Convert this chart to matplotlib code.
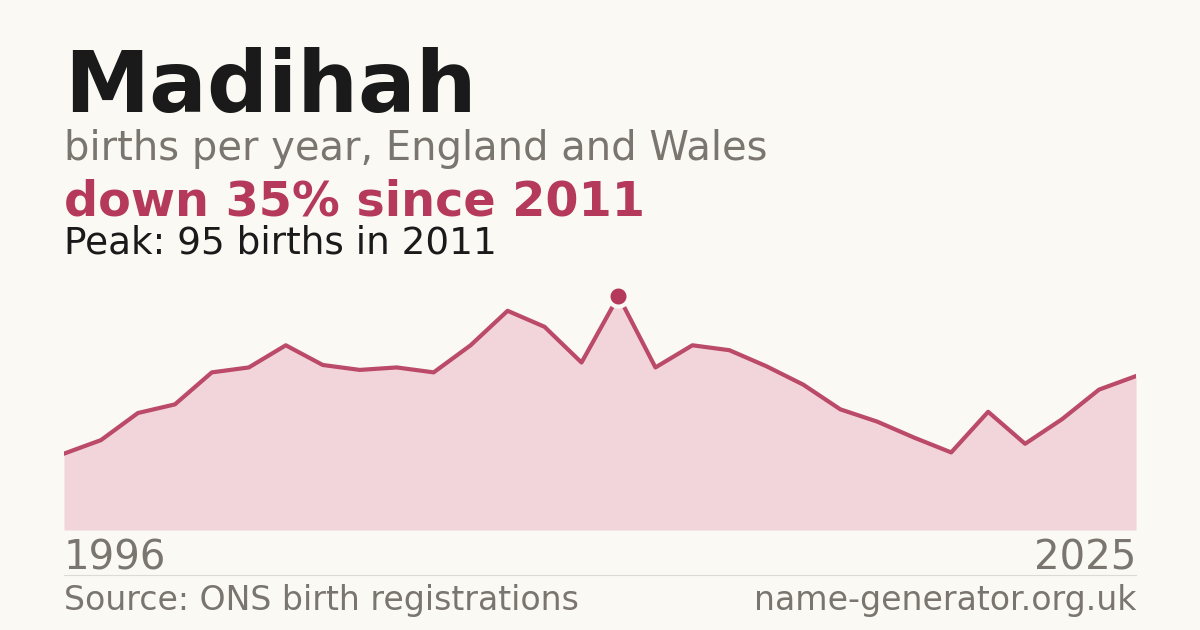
import matplotlib
matplotlib.use("Agg")
import matplotlib.pyplot as plt
import numpy as np

plt.rcParams["font.family"] = ["DejaVu Sans"]

# births per year for the name
years = list(range(1996, 2026))
births = [31, 36.5, 47.5, 51, 64, 66, 75, 67, 65, 66, 64, 75, 89, 82.5, 68,
          95, 66, 75, 73, 66.5, 59, 49, 44, 37.5, 31.5, 48, 35, 45, 57, 62.5]

name = "Madihah"
subtitle = "births per year, England and Wales"
headline = "down 35% since 2011"
peak_note = "Peak: 95 births in 2011"
source = "Source: ONS birth registrations"
site = "name-generator.org.uk"

bg = "#faf9f4"
accent = "#b5395a"
fill_col = "#f2d5da"
grey = "#7a756e"
dark = "#1a1a1a"

fig = plt.figure(figsize=(12, 6.3), dpi=100)
fig.patch.set_facecolor(bg)

W, H = 1200, 630
left, right = 64, 1136
base, top = 530, 280
ax = fig.add_axes([left / W, (H - base) / H, (right - left) / W, (base - top) / H])
ax.set_facecolor(bg)
ax.fill_between(years, births, 0, color=fill_col, linewidth=0)
ax.plot(years, births, color=accent, linewidth=3.0, alpha=0.9)
pk = int(np.argmax(births))
ax.plot(years[pk], births[pk], "o", color=accent, markersize=14.5,
        markeredgecolor=bg, markeredgewidth=3, zorder=5)
ax.set_xlim(years[0], years[-1])
ax.set_ylim(0, 101.5)
ax.axis("off")

def px(x, y):
    return x / W, 1 - y / H

fig.text(*px(64, 112), name, fontsize=61.6, fontweight="bold", color=dark, va="baseline")
fig.text(*px(64, 160), subtitle, fontsize=28.8, color=grey, va="baseline")
fig.text(*px(64, 215), headline, fontsize=34.4, fontweight="bold", color=accent, va="baseline")
fig.text(*px(64, 254), peak_note, fontsize=26.9, color=dark, va="baseline")

fig.text(*px(64, 570), str(years[0]), fontsize=29, color=grey, va="baseline")
fig.text(*px(1136, 570), str(years[-1]), fontsize=29, color=grey, va="baseline", ha="right")

fig.add_artist(plt.Line2D([left / W, right / W], [1 - 574.5 / H] * 2, color="#dedbd4", linewidth=0.8))

fig.text(*px(64, 610), source, fontsize=23.9, color=grey, va="baseline")
fig.text(*px(1136, 610), site, fontsize=23.9, color=grey, va="baseline", ha="right")

fig.savefig("out.png", dpi=100, facecolor=bg)
